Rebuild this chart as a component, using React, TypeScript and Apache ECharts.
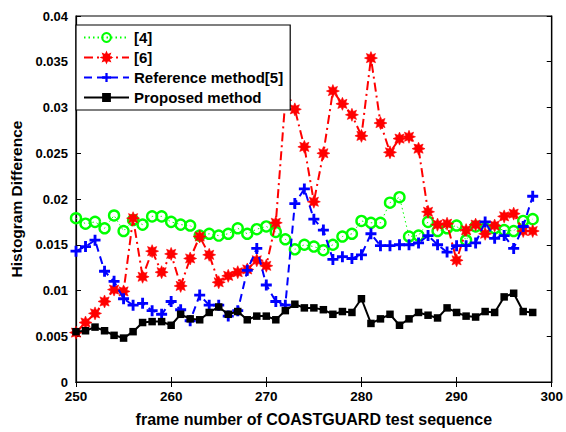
import React, { useEffect, useRef } from "react";
import * as echarts from "echarts";

const frames: number[] = [
  250, 251, 252, 253, 254, 255, 256, 257, 258, 259,
  260, 261, 262, 263, 264, 265, 266, 267, 268, 269,
  270, 271, 272, 273, 274, 275, 276, 277, 278, 279,
  280, 281, 282, 283, 284, 285, 286, 287, 288, 289,
  290, 291, 292, 293, 294, 295, 296, 297, 298,
];

const method4: number[] = [
  0.0179, 0.0173, 0.0175, 0.0168, 0.0182, 0.0165, 0.0177, 0.0172, 0.0181, 0.0181,
  0.0175, 0.0172, 0.0171, 0.016, 0.0162, 0.016, 0.0162, 0.0168, 0.0162, 0.0167,
  0.017, 0.0164, 0.0156, 0.0145, 0.015, 0.0148, 0.0144, 0.015, 0.0159, 0.0162,
  0.0176, 0.0174, 0.0174, 0.0196, 0.0202, 0.0159, 0.016, 0.0175, 0.0165, 0.0168,
  0.0171, 0.0155, 0.017, 0.0168, 0.0168, 0.0166, 0.0165, 0.0176, 0.0178,
];

const method6: number[] = [
  0.0054, 0.0065, 0.0075, 0.0088, 0.0101, 0.0099, 0.0179, 0.0115, 0.0143, 0.012,
  0.014, 0.0105, 0.0135, 0.0159, 0.0139, 0.0109, 0.0116, 0.012, 0.0123, 0.0133,
  0.0127, 0.0174, 0.0308, 0.0298, 0.0257, 0.0197, 0.025, 0.0318, 0.0304, 0.0292,
  0.0269, 0.0354, 0.0283, 0.0251, 0.0266, 0.0268, 0.0255, 0.0186, 0.0172, 0.0173,
  0.0133, 0.0166, 0.0172, 0.0162, 0.0171, 0.0181, 0.0184, 0.0165, 0.0165,
];

const method5: number[] = [
  0.0143, 0.0148, 0.0155, 0.0121, 0.011, 0.0091, 0.0084, 0.0086, 0.0078, 0.0074,
  0.0088, 0.0079, 0.0067, 0.0095, 0.0084, 0.0084, 0.0072, 0.0078, 0.0122, 0.0146,
  0.0106, 0.0088, 0.0084, 0.0195, 0.0211, 0.0178, 0.0166, 0.0134, 0.0137, 0.0135,
  0.0139, 0.0162, 0.0149, 0.0149, 0.015, 0.015, 0.0152, 0.016, 0.015, 0.0142,
  0.0149, 0.0149, 0.0152, 0.0175, 0.0157, 0.016, 0.0146, 0.017, 0.0203,
];

const proposed: number[] = [
  0.0055, 0.0056, 0.006, 0.0056, 0.0051, 0.0048, 0.0055, 0.0065, 0.0066, 0.0066,
  0.0062, 0.0074, 0.0069, 0.0068, 0.0076, 0.0082, 0.0074, 0.0077, 0.0068, 0.0072,
  0.0072, 0.0068, 0.0078, 0.0085, 0.0081, 0.0081, 0.0079, 0.0074, 0.0077, 0.0076,
  0.0091, 0.0064, 0.0069, 0.0074, 0.0062, 0.0069, 0.0076, 0.0073, 0.007, 0.0081,
  0.0076, 0.0072, 0.0071, 0.0077, 0.0076, 0.0093, 0.0097, 0.0077, 0.0076,
];

const seriesNames = ["[4]", "[6]", "Reference method[5]", "Proposed method"];
const xLabel = "frame number of COASTGUARD test sequence";
const yLabel = "Histogram Difference";

function starPath(): string {
  const n = 8;
  const R = 10;
  const r = 5.5;
  let d = "";
  for (let i = 0; i < n * 2; i++) {
    const rad = i % 2 === 0 ? R : r;
    const a = (Math.PI * i) / n - Math.PI / 2;
    const x = (R + rad * Math.cos(a)).toFixed(2);
    const y = (R + rad * Math.sin(a)).toFixed(2);
    d += (i === 0 ? "M" : "L") + x + "," + y;
  }
  return "path://" + d + "Z";
}

const plusPath = "path://M3.7,0h2.6v3.7h3.7v2.6h-3.7v3.7h-2.6v-3.7h-3.7v-2.6h3.7z";

const FONT = "'Liberation Sans', Arial, Helvetica, sans-serif";

export default function App() {
  const ref = useRef<HTMLDivElement>(null);
  useEffect(() => {
    if (!ref.current) return;
    const chart = echarts.init(ref.current, null, { renderer: "svg" });
    const pairs = (vals: number[]) => frames.map((f, i) => [f, vals[i]]);
    const axisCommon = {
      min: 250,
      max: 300,
      interval: 10,
    };
    const yCommon = {
      min: 0,
      max: 0.04,
      interval: 0.005,
    };
    chart.setOption({
      animation: false,
      backgroundColor: "#ffffff",
      textStyle: { fontFamily: FONT },
      grid: {
        left: 76,
        right: 14,
        top: 16,
        bottom: 39,
        show: true,
        borderColor: "#000",
        borderWidth: 1.2,
      },
      legend: {
        orient: "vertical",
        left: 76,
        top: 25,
        data: seriesNames,
        backgroundColor: "#ffffff",
        borderColor: "#000",
        borderWidth: 1.2,
        borderRadius: 0,
        padding: [5, 7, 5, 7],
        itemWidth: 45,
        itemHeight: 11,
        itemGap: 5,
        textStyle: {
          fontFamily: FONT,
          fontWeight: "bold",
          fontSize: 15,
          color: "#000",
        },
      },
      xAxis: [
        {
          type: "value",
          ...axisCommon,
          position: "bottom",
          name: xLabel,
          nameLocation: "middle",
          nameGap: 29,
          nameTextStyle: { fontFamily: FONT, fontWeight: "bold", fontSize: 16, color: "#000" },
          axisLine: { show: true, lineStyle: { color: "#000", width: 1.2 } },
          axisTick: { show: true, inside: true, length: 5, lineStyle: { color: "#000" } },
          axisLabel: { fontFamily: FONT, fontWeight: "bold", fontSize: 13.5, color: "#000", margin: 7 },
          splitLine: { show: false },
        },
        {
          type: "value",
          ...axisCommon,
          position: "top",
          axisLine: { show: true, lineStyle: { color: "#000", width: 1.2 } },
          axisTick: { show: true, inside: true, length: 5, lineStyle: { color: "#000" } },
          axisLabel: { show: false },
          splitLine: { show: false },
        },
      ],
      yAxis: [
        {
          type: "value",
          ...yCommon,
          position: "left",
          name: yLabel,
          nameLocation: "middle",
          nameGap: 49,
          nameTextStyle: { fontFamily: FONT, fontWeight: "bold", fontSize: 15.5, color: "#000" },
          axisLine: { show: true, lineStyle: { color: "#000", width: 1.2 } },
          axisTick: { show: true, inside: true, length: 5, lineStyle: { color: "#000" } },
          axisLabel: { fontFamily: FONT, fontWeight: "bold", fontSize: 13, color: "#000", margin: 8 },
          splitLine: { show: false },
        },
        {
          type: "value",
          ...yCommon,
          position: "right",
          axisLine: { show: true, lineStyle: { color: "#000", width: 1.2 } },
          axisTick: { show: true, inside: true, length: 5, lineStyle: { color: "#000" } },
          axisLabel: { show: false },
          splitLine: { show: false },
        },
      ],
      series: [
        {
          name: seriesNames[0],
          type: "line",
          data: pairs(method4),
          symbol: "circle",
          symbolSize: 10,
          lineStyle: { color: "#00ff00", width: 1, type: [1.5, 3] },
          itemStyle: { color: "rgba(255,255,255,0)", borderColor: "#00ff00", borderWidth: 2.4 },
          z: 2,
        },
        {
          name: seriesNames[1],
          type: "line",
          data: pairs(method6),
          symbol: starPath(),
          symbolSize: 13,
          lineStyle: { color: "#ff0000", width: 2, type: [9, 4, 2, 4] },
          itemStyle: { color: "#ff0000", borderColor: "#ff0000", borderWidth: 0.6 },
          z: 3,
        },
        {
          name: seriesNames[2],
          type: "line",
          data: pairs(method5),
          symbol: plusPath,
          symbolSize: 11,
          lineStyle: { color: "#0000ff", width: 2, type: [8, 5] },
          itemStyle: { color: "#0000ff" },
          z: 4,
        },
        {
          name: seriesNames[3],
          type: "line",
          data: pairs(proposed),
          symbol: "rect",
          symbolSize: 7.5,
          lineStyle: { color: "#000000", width: 2, type: "solid" },
          itemStyle: { color: "#000000" },
          z: 5,
        },
      ],
    });
    return () => chart.dispose();
  }, []);
  return (
    <div
      ref={ref}
      style={{ position: "fixed", left: 0, top: 0, width: 566, height: 432, background: "#fff" }}
    />
  );
}
